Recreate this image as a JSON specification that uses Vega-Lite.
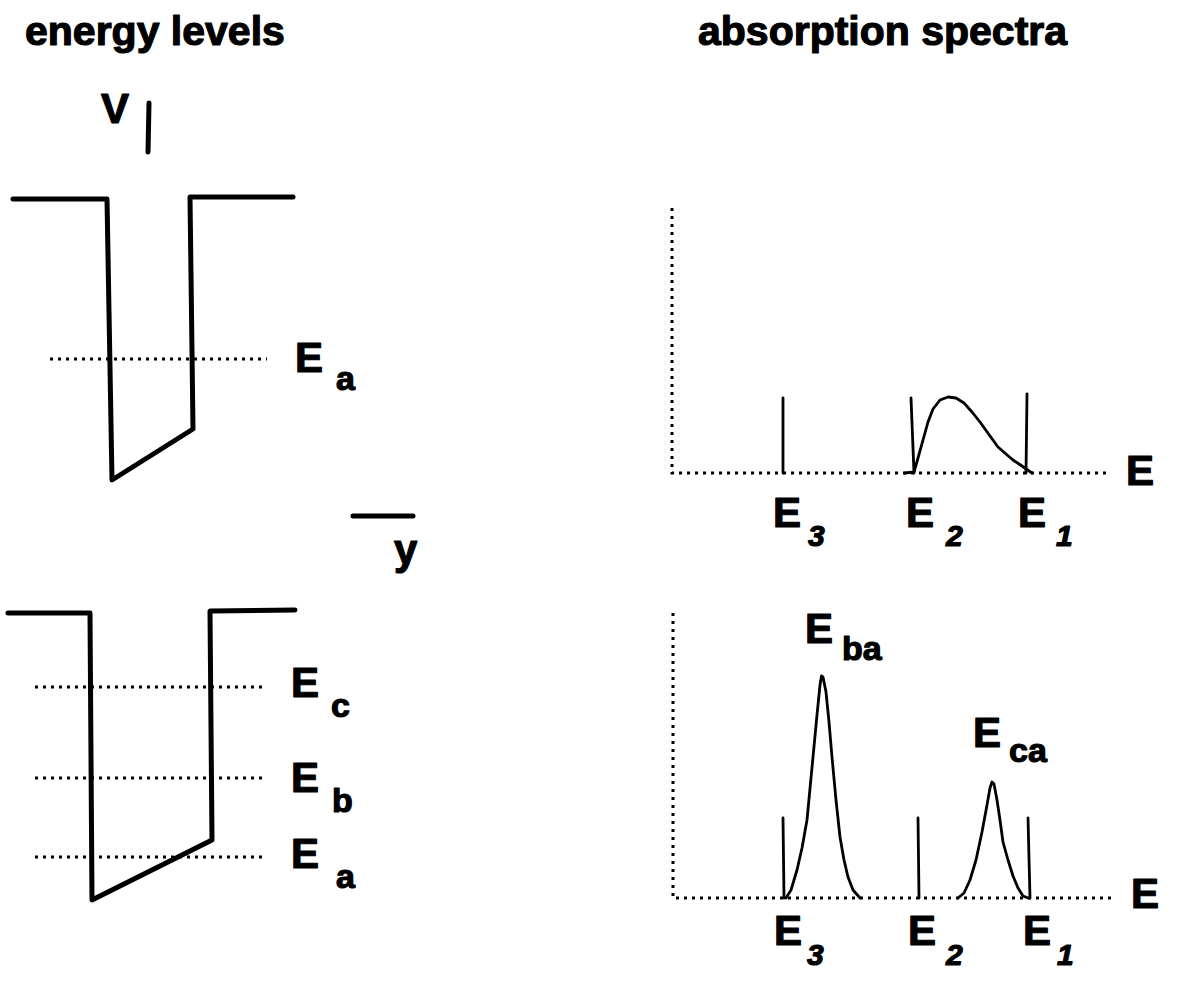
{
  "$schema": "https://vega.github.io/schema/vega-lite/v6.json",
  "width": 1193,
  "height": 982,
  "padding": 0,
  "autosize": {"type": "fit", "contains": "padding"},
  "background": "white",
  "config": {"view": {"stroke": null}},
  "datasets": {
    "paths": [
      {"id": "well1", "kind": "thick", "o": 1, "x": 13, "y": 199},
      {"id": "well1", "kind": "thick", "o": 2, "x": 107, "y": 199},
      {"id": "well1", "kind": "thick", "o": 3, "x": 112, "y": 480},
      {"id": "well1", "kind": "thick", "o": 4, "x": 193, "y": 429},
      {"id": "well1", "kind": "thick", "o": 5, "x": 190, "y": 197},
      {"id": "well1", "kind": "thick", "o": 6, "x": 293, "y": 197},
      {"id": "well2", "kind": "thick", "o": 1, "x": 8, "y": 613},
      {"id": "well2", "kind": "thick", "o": 2, "x": 90, "y": 613},
      {"id": "well2", "kind": "thick", "o": 3, "x": 92, "y": 900},
      {"id": "well2", "kind": "thick", "o": 4, "x": 212, "y": 840},
      {"id": "well2", "kind": "thick", "o": 5, "x": 210, "y": 611},
      {"id": "well2", "kind": "thick", "o": 6, "x": 295, "y": 610},
      {"id": "vtick", "kind": "thick", "o": 1, "x": 149, "y": 103},
      {"id": "vtick", "kind": "thick", "o": 2, "x": 148, "y": 152},
      {"id": "yarrow", "kind": "thick", "o": 1, "x": 353, "y": 516},
      {"id": "yarrow", "kind": "thick", "o": 2, "x": 413, "y": 516},

      {"id": "ea1", "kind": "dot", "o": 1, "x": 50, "y": 359},
      {"id": "ea1", "kind": "dot", "o": 2, "x": 267, "y": 359},
      {"id": "ec2", "kind": "dot", "o": 1, "x": 35, "y": 687},
      {"id": "ec2", "kind": "dot", "o": 2, "x": 267, "y": 687},
      {"id": "eb2", "kind": "dot", "o": 1, "x": 35, "y": 778},
      {"id": "eb2", "kind": "dot", "o": 2, "x": 267, "y": 778},
      {"id": "ea2", "kind": "dot", "o": 1, "x": 35, "y": 857},
      {"id": "ea2", "kind": "dot", "o": 2, "x": 267, "y": 857},
      {"id": "ax1", "kind": "dot", "o": 1, "x": 672, "y": 208},
      {"id": "ax1", "kind": "dot", "o": 2, "x": 672, "y": 473},
      {"id": "ax1", "kind": "dot", "o": 3, "x": 1108, "y": 473},
      {"id": "ax2", "kind": "dot", "o": 1, "x": 673, "y": 613},
      {"id": "ax2", "kind": "dot", "o": 2, "x": 673, "y": 898},
      {"id": "ax2", "kind": "dot", "o": 3, "x": 1112, "y": 898},

      {"id": "t3", "kind": "thin", "o": 1, "x": 783, "y": 398},
      {"id": "t3", "kind": "thin", "o": 2, "x": 783, "y": 473},
      {"id": "t2", "kind": "thin", "o": 1, "x": 911, "y": 398},
      {"id": "t2", "kind": "thin", "o": 2, "x": 914, "y": 473},
      {"id": "t1", "kind": "thin", "o": 1, "x": 1027, "y": 394},
      {"id": "t1", "kind": "thin", "o": 2, "x": 1026, "y": 473},
      {"id": "tc", "kind": "thin", "o": 1, "x": 905, "y": 473},
      {"id": "tc", "kind": "thin", "o": 2, "x": 914, "y": 472},
      {"id": "tc", "kind": "thin", "o": 3, "x": 918, "y": 458},
      {"id": "tc", "kind": "thin", "o": 4, "x": 923, "y": 440},
      {"id": "tc", "kind": "thin", "o": 5, "x": 928, "y": 422},
      {"id": "tc", "kind": "thin", "o": 6, "x": 933, "y": 409},
      {"id": "tc", "kind": "thin", "o": 7, "x": 940, "y": 400},
      {"id": "tc", "kind": "thin", "o": 8, "x": 948, "y": 397},
      {"id": "tc", "kind": "thin", "o": 9, "x": 956, "y": 398},
      {"id": "tc", "kind": "thin", "o": 10, "x": 964, "y": 403},
      {"id": "tc", "kind": "thin", "o": 11, "x": 972, "y": 412},
      {"id": "tc", "kind": "thin", "o": 12, "x": 980, "y": 422},
      {"id": "tc", "kind": "thin", "o": 13, "x": 990, "y": 436},
      {"id": "tc", "kind": "thin", "o": 14, "x": 998, "y": 447},
      {"id": "tc", "kind": "thin", "o": 15, "x": 1006, "y": 454},
      {"id": "tc", "kind": "thin", "o": 16, "x": 1013, "y": 460},
      {"id": "tc", "kind": "thin", "o": 17, "x": 1022, "y": 466},
      {"id": "tc", "kind": "thin", "o": 18, "x": 1032, "y": 473},

      {"id": "b3", "kind": "thin", "o": 1, "x": 783, "y": 818},
      {"id": "b3", "kind": "thin", "o": 2, "x": 784, "y": 898},
      {"id": "b2", "kind": "thin", "o": 1, "x": 918, "y": 818},
      {"id": "b2", "kind": "thin", "o": 2, "x": 919, "y": 898},
      {"id": "b1", "kind": "thin", "o": 1, "x": 1028, "y": 818},
      {"id": "b1", "kind": "thin", "o": 2, "x": 1030, "y": 898},
      {"id": "pba", "kind": "thin", "o": 1, "x": 786, "y": 898},
      {"id": "pba", "kind": "thin", "o": 2, "x": 791, "y": 890},
      {"id": "pba", "kind": "thin", "o": 3, "x": 797, "y": 870},
      {"id": "pba", "kind": "thin", "o": 4, "x": 802, "y": 848},
      {"id": "pba", "kind": "thin", "o": 5, "x": 807, "y": 820},
      {"id": "pba", "kind": "thin", "o": 6, "x": 813, "y": 757},
      {"id": "pba", "kind": "thin", "o": 7, "x": 817, "y": 715},
      {"id": "pba", "kind": "thin", "o": 8, "x": 820, "y": 685},
      {"id": "pba", "kind": "thin", "o": 9, "x": 821.5, "y": 676},
      {"id": "pba", "kind": "thin", "o": 10, "x": 823, "y": 677},
      {"id": "pba", "kind": "thin", "o": 11, "x": 826, "y": 692},
      {"id": "pba", "kind": "thin", "o": 12, "x": 829, "y": 722},
      {"id": "pba", "kind": "thin", "o": 13, "x": 832, "y": 757},
      {"id": "pba", "kind": "thin", "o": 14, "x": 836, "y": 800},
      {"id": "pba", "kind": "thin", "o": 15, "x": 840, "y": 837},
      {"id": "pba", "kind": "thin", "o": 16, "x": 844, "y": 860},
      {"id": "pba", "kind": "thin", "o": 17, "x": 848, "y": 877},
      {"id": "pba", "kind": "thin", "o": 18, "x": 853, "y": 890},
      {"id": "pba", "kind": "thin", "o": 19, "x": 860, "y": 898},
      {"id": "pca", "kind": "thin", "o": 1, "x": 958, "y": 898},
      {"id": "pca", "kind": "thin", "o": 2, "x": 964, "y": 893},
      {"id": "pca", "kind": "thin", "o": 3, "x": 970, "y": 880},
      {"id": "pca", "kind": "thin", "o": 4, "x": 976, "y": 860},
      {"id": "pca", "kind": "thin", "o": 5, "x": 982, "y": 832},
      {"id": "pca", "kind": "thin", "o": 6, "x": 987, "y": 805},
      {"id": "pca", "kind": "thin", "o": 7, "x": 990, "y": 788},
      {"id": "pca", "kind": "thin", "o": 8, "x": 992, "y": 782},
      {"id": "pca", "kind": "thin", "o": 9, "x": 994, "y": 784},
      {"id": "pca", "kind": "thin", "o": 10, "x": 997, "y": 800},
      {"id": "pca", "kind": "thin", "o": 11, "x": 1000, "y": 820},
      {"id": "pca", "kind": "thin", "o": 12, "x": 1003, "y": 842},
      {"id": "pca", "kind": "thin", "o": 13, "x": 1008, "y": 860},
      {"id": "pca", "kind": "thin", "o": 14, "x": 1013, "y": 876},
      {"id": "pca", "kind": "thin", "o": 15, "x": 1018, "y": 888},
      {"id": "pca", "kind": "thin", "o": 16, "x": 1023, "y": 896},
      {"id": "pca", "kind": "thin", "o": 17, "x": 1028, "y": 898}
    ],
    "texts": [
      {"kind": "title", "x": 25, "y": 45, "label": "energy levels"},
      {"kind": "title", "x": 698, "y": 45, "label": "absorption spectra"},
      {"kind": "big", "x": 101, "y": 123, "label": "V"},
      {"kind": "big", "x": 394, "y": 564, "label": "y"},
      {"kind": "big", "x": 295, "y": 372, "label": "E"},
      {"kind": "sub", "x": 336, "y": 390, "label": "a"},
      {"kind": "big", "x": 291, "y": 697, "label": "E"},
      {"kind": "sub", "x": 331, "y": 717, "label": "c"},
      {"kind": "big", "x": 291, "y": 792, "label": "E"},
      {"kind": "sub", "x": 332, "y": 812, "label": "b"},
      {"kind": "big", "x": 291, "y": 868, "label": "E"},
      {"kind": "sub", "x": 336, "y": 888, "label": "a"},
      {"kind": "big", "x": 1126, "y": 485, "label": "E"},
      {"kind": "big", "x": 1131, "y": 908, "label": "E"},
      {"kind": "big", "x": 773, "y": 527, "label": "E"},
      {"kind": "digit", "x": 808, "y": 546, "label": "3"},
      {"kind": "big", "x": 906, "y": 527, "label": "E"},
      {"kind": "digit", "x": 946, "y": 546, "label": "2"},
      {"kind": "big", "x": 1018, "y": 527, "label": "E"},
      {"kind": "digit", "x": 1056, "y": 546, "label": "1"},
      {"kind": "big", "x": 805, "y": 643, "label": "E"},
      {"kind": "sub", "x": 842, "y": 660, "label": "ba"},
      {"kind": "big", "x": 973, "y": 747, "label": "E"},
      {"kind": "sub", "x": 1009, "y": 762, "label": "ca"},
      {"kind": "big", "x": 774, "y": 945, "label": "E"},
      {"kind": "digit", "x": 807, "y": 965, "label": "3"},
      {"kind": "big", "x": 908, "y": 945, "label": "E"},
      {"kind": "digit", "x": 946, "y": 965, "label": "2"},
      {"kind": "big", "x": 1023, "y": 945, "label": "E"},
      {"kind": "digit", "x": 1057, "y": 965, "label": "1"}
    ]
  },
  "encoding": {
    "x": {"field": "x", "type": "quantitative", "scale": {"domain": [0, 1193], "nice": false, "zero": false}, "axis": null},
    "y": {"field": "y", "type": "quantitative", "scale": {"domain": [0, 982], "nice": false, "zero": false, "reverse": true}, "axis": null}
  },
  "layer": [
    {
      "data": {"name": "paths"},
      "transform": [{"filter": "datum.kind === 'dot'"}],
      "mark": {"type": "line", "color": "black", "strokeWidth": 3, "strokeDash": [3, 5], "strokeCap": "butt"},
      "encoding": {"detail": {"field": "id"}, "order": {"field": "o", "type": "quantitative"}}
    },
    {
      "data": {"name": "paths"},
      "transform": [{"filter": "datum.kind === 'thin'"}],
      "mark": {"type": "line", "color": "black", "strokeWidth": 2.8, "strokeJoin": "round", "strokeCap": "round"},
      "encoding": {"detail": {"field": "id"}, "order": {"field": "o", "type": "quantitative"}}
    },
    {
      "data": {"name": "paths"},
      "transform": [{"filter": "datum.kind === 'thick'"}],
      "mark": {"type": "line", "color": "black", "strokeWidth": 5, "strokeJoin": "round", "strokeCap": "round"},
      "encoding": {"detail": {"field": "id"}, "order": {"field": "o", "type": "quantitative"}}
    },
    {
      "data": {"name": "texts"},
      "transform": [{"filter": "datum.kind === 'title'"}],
      "mark": {"type": "text", "align": "left", "baseline": "alphabetic", "font": "Liberation Sans", "fontWeight": "bold", "fontSize": 41, "color": "black", "stroke": "black", "strokeWidth": 1.2, "strokeJoin": "round"},
      "encoding": {"text": {"field": "label"}}
    },
    {
      "data": {"name": "texts"},
      "transform": [{"filter": "datum.kind === 'big'"}],
      "mark": {"type": "text", "align": "left", "baseline": "alphabetic", "font": "Liberation Sans", "fontWeight": "bold", "fontSize": 42, "color": "black", "stroke": "black", "strokeWidth": 1.2, "strokeJoin": "round"},
      "encoding": {"text": {"field": "label"}}
    },
    {
      "data": {"name": "texts"},
      "transform": [{"filter": "datum.kind === 'sub'"}],
      "mark": {"type": "text", "align": "left", "baseline": "alphabetic", "font": "Liberation Sans", "fontWeight": "bold", "fontSize": 34, "color": "black", "stroke": "black", "strokeWidth": 1.2, "strokeJoin": "round"},
      "encoding": {"text": {"field": "label"}}
    },
    {
      "data": {"name": "texts"},
      "transform": [{"filter": "datum.kind === 'digit'"}],
      "mark": {"type": "text", "align": "left", "baseline": "alphabetic", "font": "Liberation Sans", "fontWeight": "bold", "fontStyle": "italic", "fontSize": 30, "color": "black", "stroke": "black", "strokeWidth": 1.2, "strokeJoin": "round"},
      "encoding": {"text": {"field": "label"}}
    }
  ]
}
